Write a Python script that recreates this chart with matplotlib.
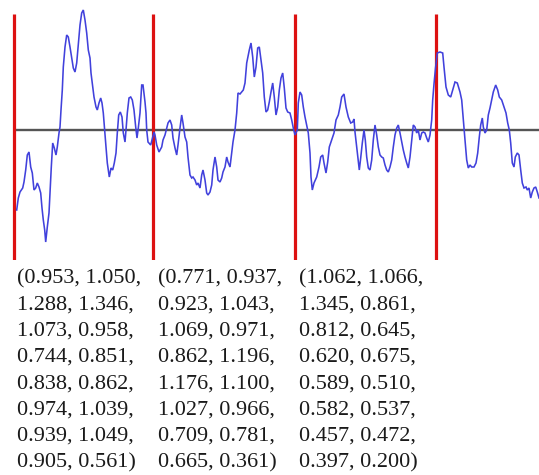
import matplotlib
matplotlib.use("Agg")
import matplotlib.pyplot as plt

# Signal trace: sample position and level relative to the mean line
t = [16.7, 18.3, 20, 22.7, 24, 25.7, 27.3, 29, 30.7, 32.3, 34, 35.7, 37.3, 39, 40.7,
     42, 43.3, 44.7, 45.7, 47.3, 49, 50.3, 51.3, 52.7, 54.3, 56, 57.3, 59, 60, 61,
     62.3, 63.3, 65, 66.7, 68.3, 70, 71.7, 73.3, 75, 76.7, 78.3, 80, 81.7, 83.3, 85,
     86.7, 88.3, 90, 91, 92.7, 94, 96, 97.3, 99, 100.7, 102, 103.3, 104.7, 106, 107.3,
     109.3, 111, 112.7, 114.3, 116, 117.3, 118.7, 120.3, 122, 123.3, 125, 126, 127.3,
     129, 130.7, 132.3, 134, 135.7, 137, 138.3, 140, 141.7, 143, 145, 146, 146.7, 148,
     150.7, 152.7, 154, 155, 156.7, 159, 161.7, 163, 165, 166.7, 168, 170, 171.7, 173,
     175, 176.7, 178, 180, 181.7, 183, 185, 186.7, 188, 190, 191.7, 193, 195, 196.7,
     198, 200, 201.7, 203, 205, 206.7, 208, 210, 211.7, 213, 215, 216.7, 218, 220,
     221.7, 223, 225, 226.7, 228, 230, 231.7, 233, 235, 236.7, 238, 240, 243.3, 245,
     246.7, 249.3, 251, 252.7, 254.3, 256, 257.7, 259.3, 261, 262.7, 264.3, 266, 267.7,
     269.3, 271, 272.7, 274.3, 276, 277.7, 279.3, 281, 282.7, 284.3, 286, 287.7, 290,
     291.7, 293.3, 295, 297.3, 298.3, 300, 301.7, 303.3, 305, 306.7, 308.3, 310, 311,
     312.3, 314, 316.7, 319, 320.7, 322.7, 324, 326, 327.7, 329.3, 331.7, 334, 336,
     338.3, 340, 341.7, 344, 346, 348.3, 350.7, 352.7, 354, 355, 356.7, 358.3, 359.3,
     360.7, 362.3, 364, 365.3, 366.7, 368.3, 370, 371.7, 373.3, 375, 376.7, 378.3, 380,
     381.7, 383.3, 385, 386.7, 388.3, 390, 391.7, 393.3, 395, 396.7, 398.3, 400, 401.7,
     403.3, 405, 406.7, 408.3, 410, 411.7, 413.3, 415, 416.7, 418.3, 420, 421.7, 423.3,
     425, 426.7, 428.3, 430, 431.7, 432.7, 434, 435.5, 437.3, 440, 442.7, 444, 446,
     448.3, 450.7, 452.7, 455, 457.3, 460, 461.7, 463.3, 465, 466.7, 468.3, 470, 471.7,
     474, 476, 477.7, 479.3, 480.7, 482.3, 483.3, 485, 486.7, 488.3, 490, 491.7, 493.3,
     495.7, 497.7, 499.3, 501.7, 504, 506, 507.7, 509.3, 510.7, 512.3, 514, 515.3,
     517.3, 519, 520.7, 522.3, 524, 526, 527.3, 529, 530.7, 532.3, 534, 535.7, 537.3, 539]

level = [-80, -68, -62, -58, -52, -40, -25, -22, -37, -43, -60, -58, -53, -57, -63,
         -78, -90, -100, -112, -97, -83, -57, -37, -13, -18, -25, -17, -3, 3, 20,
         40, 63, 83, 95, 93, 83, 72, 62, 58, 67, 85, 105, 117, 120, 110,
         97, 80, 72, 57, 43, 33, 23, 20, 27, 32, 27, 17, 0, -17, -33,
         -47, -38, -40, -33, -23, -3, 15, 18, 13, -3, -12, 0, 17,
         32, 33, 30, 20, 3, -8, 2, 17, 45, 45, 28, 17, 0, -12,
         -15, -7, -2, -5, -15, -22, -17, -10, -5, 2, 7, 10, 5, -8,
         -18, -25, -15, 2, 15, 7, -7, -12, -27, -45, -48, -47, -50, -55,
         -53, -58, -45, -40, -50, -63, -65, -62, -55, -40, -27, -37, -50, -52,
         -48, -42, -37, -27, -32, -37, -23, -12, 0, 17, 37, 36, 40, 47,
         67, 80, 87, 73, 53, 63, 82, 83, 70, 57, 33, 18, 20,
         28, 38, 47, 33, 15, 23, 40, 52, 57, 42, 22, 18, 17,
         10, 2, -5, 0, 27, 38, 35, 23, 13, 5, -3, -23, -47,
         -60, -53, -47, -37, -27, -25, -33, -43, -32, -17, -10, -3, 10,
         15, 23, 33, 36, 23, 13, 7, 8, 11, -2, -17, -32, -40,
         -28, -13, 0, -10, -27, -38, -40, -30, -10, 5, -5, -17, -25,
         -27, -28, -35, -40, -42, -37, -30, -17, -5, 2, 5, -3, -12,
         -20, -27, -33, -38, -27, -10, 5, 3, -3, 0, -10, -3, -2,
         -3, -8, -12, -5, 10, 30, 46, 62, 77, 78, 77, 63, 43,
         35, 33, 40, 48, 47, 38, 30, 10, -10, -30, -38, -35, -37,
         -37, -33, -23, -7, 5, 12, 3, -3, 0, 15, 22, 30, 38,
         45, 40, 33, 30, 23, 17, 7, 0, -13, -33, -37, -27,
         -23, -25, -40, -53, -58, -57, -60, -58, -68, -62, -58, -57, -62, -68]

# Segment boundaries
boundaries = [14, 153, 295, 436]

# Per-segment coefficient lists
coef_1 = [0.953, 1.050, 1.288, 1.346, 1.073, 0.958, 0.744, 0.851,
          0.838, 0.862, 0.974, 1.039, 0.939, 1.049, 0.905, 0.561]
coef_2 = [0.771, 0.937, 0.923, 1.043, 1.069, 0.971, 0.862, 1.196,
          1.176, 1.100, 1.027, 0.966, 0.709, 0.781, 0.665, 0.361]
coef_3 = [1.062, 1.066, 1.345, 0.861, 0.812, 0.645, 0.620, 0.675,
          0.589, 0.510, 0.582, 0.537, 0.457, 0.472, 0.397, 0.200]

W, H = 539, 475
fig = plt.figure(figsize=(W / 100, H / 100), dpi=100)
fig.patch.set_facecolor("white")

plot_h = 260
ax = fig.add_axes([0, 1 - plot_h / H, 1, plot_h / H])
ax.set_xlim(0, W)
ax.set_ylim(-130, 130)
ax.axis("off")

ax.hlines(0, boundaries[0], W, color="#555555", lw=1.7, zorder=1)
ax.vlines(boundaries, -130, 116, color="#dd1111", lw=2.3, zorder=2)
ax.plot(t, level, color="#4141dc", lw=1.15, zorder=3, solid_joinstyle="miter")


def lines_for(vals):
    rows = []
    for i in range(0, len(vals), 2):
        a, b = vals[i], vals[i + 1]
        pre = "(" if i == 0 else ""
        post = ")" if i + 2 >= len(vals) else ","
        rows.append(f"{pre}{a:.3f}, {b:.3f}{post}")
    return rows


col_x = [17, 158, 299]
first_baseline = 283
row_step = 26.3
for cx, vals in zip(col_x, [coef_1, coef_2, coef_3]):
    for r, txt in enumerate(lines_for(vals)):
        yb = first_baseline + r * row_step
        fig.text(cx / W, 1 - yb / H, txt, fontsize=16, family="Liberation Serif",
                 color="#1a1a1a", ha="left", va="baseline")

fig.savefig("out.png", dpi=100, facecolor="white")
